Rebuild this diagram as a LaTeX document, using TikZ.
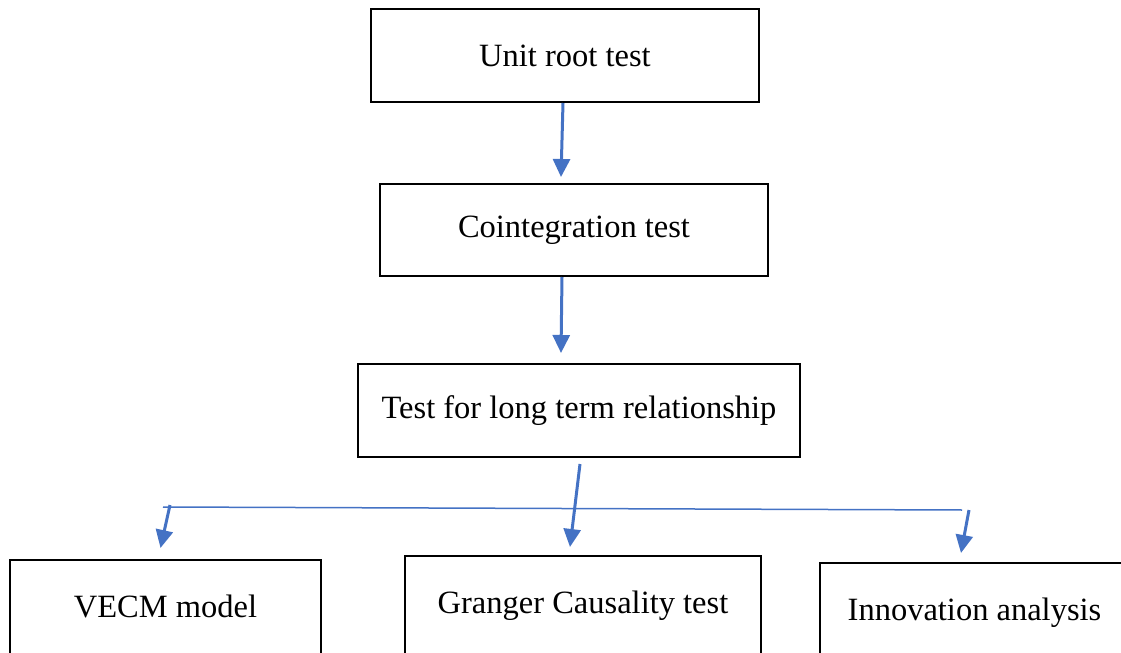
\documentclass[tikz,border=0pt]{standalone}
\usepackage{fontspec}
\setmainfont{Liberation Serif}
\usepackage{xcolor}
\usetikzlibrary{positioning,arrows.meta}
\definecolor{flowblue}{HTML}{4472C4}

\begin{document}
\begin{tikzpicture}[x=0.5pt, y=-0.5pt, font=\fontsize{16.25}{19}\selectfont,
  box/.style={draw, line width=1pt, inner sep=0pt, minimum height=46.5pt},
  lowbox/.style={box, minimum height=52pt, text height=11pt, text depth=5.2pt},
  arr/.style={-{Triangle[length=9pt,width=8.5pt]}, line width=1.5pt, flowblue}]
\useasboundingbox (0,0) rectangle (1121,653);
\node[box, minimum width=194pt] (unit) at (565,55.5) {Unit root test};
\node[box, minimum width=194pt, minimum height=46pt, below=40pt of unit, xshift=4.5pt] (coint) {Cointegration test};
\node[box, minimum width=221pt, below=43pt of coint, xshift=2.5pt] (longrun) {Test for long term relationship};
\node[lowbox, minimum width=178pt, below=48.5pt of longrun, xshift=2pt] (granger) {Granger Causality test};
\node[lowbox, minimum width=155.5pt, left=41pt of granger, yshift=-2pt] (vecm) {VECM model};
\node[lowbox, minimum width=154.5pt, right=28.5pt of granger, yshift=-3.5pt] (innov) {Innovation analysis};
% arrows down the chain
\draw[arr] ([xshift=-1pt]unit.south) -- ([xshift=-6.5pt,yshift=3pt]coint.north);
\draw[arr] ([xshift=-6pt]coint.south) -- ([xshift=-9pt,yshift=5pt]longrun.north);
\draw[arr] ([xshift=0.5pt,yshift=-3pt]longrun.south) -- ([xshift=-6.5pt,yshift=4pt]granger.north);
% branch line
\coordinate (busL) at (163,507);
\coordinate (busR) at (962,510);
\draw[flowblue, line width=0.75pt] (busL) -- (busR);
\draw[arr] ([xshift=3.5pt,yshift=1pt]busL) -- ([xshift=-2.5pt,yshift=5.5pt]vecm.north);
\draw[arr] ([xshift=3.5pt]busR) -- ([xshift=-6.75pt,yshift=4.5pt]innov.north);
\end{tikzpicture}
\end{document}
